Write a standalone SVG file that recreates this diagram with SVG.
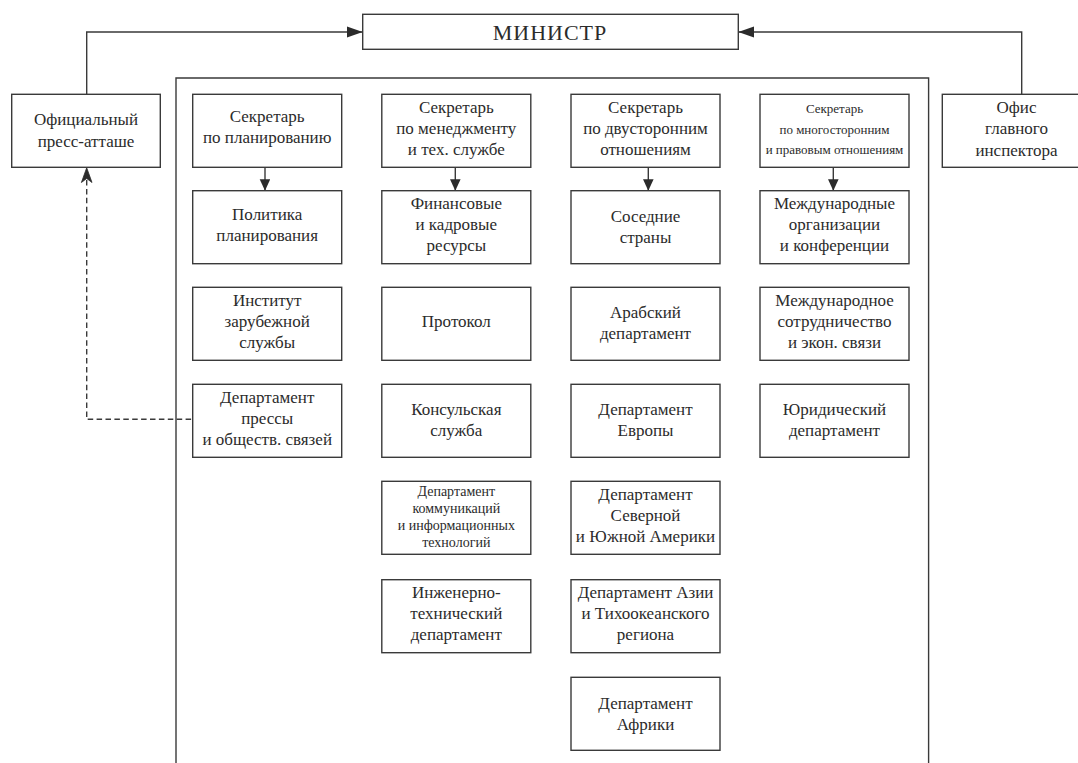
<svg xmlns="http://www.w3.org/2000/svg" width="1078" height="763" viewBox="0 0 1078 763">
<style>
.box{fill:#fff;stroke:#3a3a3a;stroke-width:1.4}
.ln{fill:none;stroke:#3a3a3a;stroke-width:1.4}
.dash{fill:none;stroke:#3a3a3a;stroke-width:1.4;stroke-dasharray:5.5 3.4}
text{font-family:"Liberation Serif","Times New Roman",serif;font-size:17px;fill:#2b2b2b;text-anchor:middle}
.sm{font-size:14px}
.xs{font-size:13px}
.big{font-size:22px;letter-spacing:1px}
</style>
<defs>
<marker id="ah" markerUnits="userSpaceOnUse" markerWidth="17" markerHeight="12" refX="16" refY="6" orient="auto">
<path d="M0,0.4 L16,6 L0,11.6 Z" fill="#2b2b2b"/>
</marker>
<marker id="av" markerUnits="userSpaceOnUse" markerWidth="12" markerHeight="11" refX="11.5" refY="5.3" orient="auto">
<path d="M0,0 L11.5,5.3 L0,10.6 Z" fill="#2b2b2b"/>
</marker>
</defs>
<rect width="1078" height="763" fill="#fff"/>

<g id="outer">
<path class="ln" d="M176,770 V78 H928.6 V770"/>
</g>

<g id="connectors">
<path class="ln" d="M86.7,94.3 V32 H362.7" marker-end="url(#ah)"/>
<path class="ln" d="M1021.7,94.3 V32 H738.3" marker-end="url(#ah)"/>
<path class="ln" d="M265,167.3 V190.7" marker-end="url(#av)"/>
<path class="ln" d="M455.3,167.3 V190.7" marker-end="url(#av)"/>
<path class="ln" d="M648.3,167.3 V190.7" marker-end="url(#av)"/>
<path class="ln" d="M833.3,167.3 V190.7" marker-end="url(#av)"/>
<path class="dash" d="M86.7,180 V419.3 H192.7"/>
<path d="M86.7,167.8 L92,182.5 L86.7,178.5 L81.4,182.5 Z" fill="#2b2b2b" stroke="#2b2b2b" stroke-width="0.8" stroke-linejoin="round"/>
</g>

<g id="minister">
<rect class="box" x="362.7" y="14.3" width="375.6" height="35"/>
<text class="big" x="550" y="39.5">МИНИСТР</text>
</g>

<g id="press-attache">
<rect class="box" x="11.7" y="94.3" width="148.6" height="73"/>
<text x="86" y="125"><tspan x="86">Официальный</tspan><tspan x="86" y="146.5">пресс-атташе</tspan></text>
</g>

<g id="inspector">
<rect class="box" x="942.3" y="94.3" width="149" height="73"/>
<text x="1016.5" y="112.8"><tspan x="1016.5">Офис</tspan><tspan x="1016.5" y="134">главного</tspan><tspan x="1016.5" y="155.5">инспектора</tspan></text>
</g>

<g id="sec-planning">
<rect class="box" x="192.7" y="94.3" width="149" height="73"/>
<text x="267.2" y="122.3"><tspan x="267.2">Секретарь</tspan><tspan x="267.2" y="143.3">по планированию</tspan></text>
</g>
<g id="sec-management">
<rect class="box" x="381.8" y="94.3" width="149" height="73"/>
<text x="456.3" y="112.8"><tspan x="456.3">Секретарь</tspan><tspan x="456.3" y="133.8">по менеджменту</tspan><tspan x="456.3" y="154.8">и тех. службе</tspan></text>
</g>
<g id="sec-bilateral">
<rect class="box" x="571" y="94.3" width="149" height="73"/>
<text x="645.5" y="112.8"><tspan x="645.5">Секретарь</tspan><tspan x="645.5" y="133.8">по двусторонним</tspan><tspan x="645.5" y="154.8">отношениям</tspan></text>
</g>
<g id="sec-multilateral">
<rect class="box" x="760" y="94.3" width="149" height="73"/>
<text class="xs" x="834.5" y="113"><tspan x="834.5">Секретарь</tspan><tspan x="834.5" y="133.5">по многосторонним</tspan><tspan x="834.5" y="154">и правовым отношениям</tspan></text>
</g>

<g id="policy-planning">
<rect class="box" x="192.7" y="190.7" width="149" height="73"/>
<text x="267.2" y="220"><tspan x="267.2">Политика</tspan><tspan x="267.2" y="241">планирования</tspan></text>
</g>
<g id="finance-hr">
<rect class="box" x="381.8" y="190.7" width="149" height="73"/>
<text x="456.3" y="209.2"><tspan x="456.3">Финансовые</tspan><tspan x="456.3" y="230.2">и кадровые</tspan><tspan x="456.3" y="251.2">ресурсы</tspan></text>
</g>
<g id="neighbours">
<rect class="box" x="571" y="190.7" width="149" height="73"/>
<text x="645.5" y="221.5"><tspan x="645.5">Соседние</tspan><tspan x="645.5" y="242.5">страны</tspan></text>
</g>
<g id="intl-orgs">
<rect class="box" x="760" y="190.7" width="149" height="73"/>
<text x="834.5" y="209.2"><tspan x="834.5">Международные</tspan><tspan x="834.5" y="230.2">организации</tspan><tspan x="834.5" y="251.2">и конференции</tspan></text>
</g>

<g id="foreign-service-institute">
<rect class="box" x="192.7" y="287.3" width="149" height="73"/>
<text x="267.2" y="305.8"><tspan x="267.2">Институт</tspan><tspan x="267.2" y="326.8">зарубежной</tspan><tspan x="267.2" y="347.8">службы</tspan></text>
</g>
<g id="protocol">
<rect class="box" x="381.8" y="287.3" width="149" height="73"/>
<text x="456.3" y="326.8">Протокол</text>
</g>
<g id="arab-dept">
<rect class="box" x="571" y="287.3" width="149" height="73"/>
<text x="645.5" y="318"><tspan x="645.5">Арабский</tspan><tspan x="645.5" y="339">департамент</tspan></text>
</g>
<g id="intl-cooperation">
<rect class="box" x="760" y="287.3" width="149" height="73"/>
<text x="834.5" y="305.8"><tspan x="834.5">Международное</tspan><tspan x="834.5" y="326.8">сотрудничество</tspan><tspan x="834.5" y="347.8">и экон. связи</tspan></text>
</g>

<g id="press-dept">
<rect class="box" x="192.7" y="384.3" width="149" height="73"/>
<text x="267.2" y="402.8"><tspan x="267.2">Департамент</tspan><tspan x="267.2" y="423.8">прессы</tspan><tspan x="267.2" y="444.8">и обществ. связей</tspan></text>
</g>
<g id="consular">
<rect class="box" x="381.8" y="384.3" width="149" height="73"/>
<text x="456.3" y="414.5"><tspan x="456.3">Консульская</tspan><tspan x="456.3" y="435.5">служба</tspan></text>
</g>
<g id="europe-dept">
<rect class="box" x="571" y="384.3" width="149" height="73"/>
<text x="645.5" y="415"><tspan x="645.5">Департамент</tspan><tspan x="645.5" y="436">Европы</tspan></text>
</g>
<g id="legal-dept">
<rect class="box" x="760" y="384.3" width="149" height="73"/>
<text x="834.5" y="415"><tspan x="834.5">Юридический</tspan><tspan x="834.5" y="436">департамент</tspan></text>
</g>

<g id="it-dept">
<rect class="box" x="381.8" y="481.3" width="149" height="73"/>
<text class="sm" x="456.3" y="496"><tspan x="456.3">Департамент</tspan><tspan x="456.3" y="513">коммуникаций</tspan><tspan x="456.3" y="530">и информационных</tspan><tspan x="456.3" y="547">технологий</tspan></text>
</g>
<g id="americas-dept">
<rect class="box" x="571" y="481.3" width="149" height="73"/>
<text x="645.5" y="499.8"><tspan x="645.5">Департамент</tspan><tspan x="645.5" y="520.8">Северной</tspan><tspan x="645.5" y="541.8">и Южной Америки</tspan></text>
</g>

<g id="engineering-dept">
<rect class="box" x="381.8" y="579.7" width="149" height="73"/>
<text x="456.3" y="598.2"><tspan x="456.3">Инженерно-</tspan><tspan x="456.3" y="619.2">технический</tspan><tspan x="456.3" y="640.2">департамент</tspan></text>
</g>
<g id="asia-pacific-dept">
<rect class="box" x="571" y="579.7" width="149" height="73"/>
<text x="645.5" y="598.2"><tspan x="645.5">Департамент Азии</tspan><tspan x="645.5" y="619.2">и Тихоокеанского</tspan><tspan x="645.5" y="640.2">региона</tspan></text>
</g>

<g id="africa-dept">
<rect class="box" x="571" y="677.3" width="149" height="73"/>
<text x="645.5" y="709"><tspan x="645.5">Департамент</tspan><tspan x="645.5" y="730">Африки</tspan></text>
</g>
</svg>
